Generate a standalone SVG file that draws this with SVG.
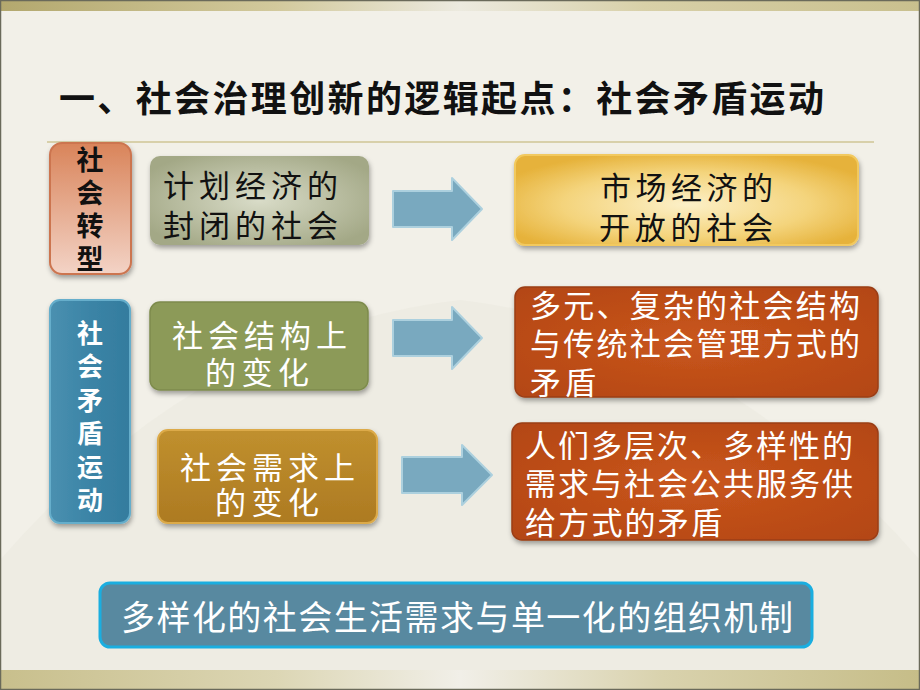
<svg xmlns="http://www.w3.org/2000/svg" width="920" height="690" viewBox="0 0 920 690">
<defs>
<linearGradient id="topBand" x1="0" y1="0" x2="1" y2="0">
<stop offset="0" stop-color="#b3a86e"/><stop offset="0.3" stop-color="#d2c99c"/><stop offset="0.5" stop-color="#eceadf"/><stop offset="0.7" stop-color="#d8d0a8"/><stop offset="1" stop-color="#c9c08e"/>
</linearGradient>
<linearGradient id="botBand" x1="0" y1="0" x2="1" y2="0">
<stop offset="0" stop-color="#c8bf8c"/><stop offset="0.3" stop-color="#dcd6b4"/><stop offset="0.5" stop-color="#f1efe8"/><stop offset="0.72" stop-color="#d9d2ad"/><stop offset="1" stop-color="#c6bd88"/>
</linearGradient>
<linearGradient id="redG" x1="0" y1="0" x2="0" y2="1">
<stop offset="0" stop-color="#d9845a"/><stop offset="1" stop-color="#f3d3c6"/>
</linearGradient>
<radialGradient id="greyG" cx="0.5" cy="0.5" r="0.6">
<stop offset="0" stop-color="#d9dcc8"/><stop offset="1" stop-color="#a3a886"/>
</radialGradient>
<radialGradient id="goldG" cx="0.5" cy="0.55" r="0.6">
<stop offset="0" stop-color="#fcf0c8"/><stop offset="0.6" stop-color="#f4d47c"/><stop offset="1" stop-color="#e6b23a"/>
</radialGradient>
<radialGradient id="orangeG" cx="0.5" cy="0.5" r="0.7">
<stop offset="0" stop-color="#c9561c"/><stop offset="1" stop-color="#b34614"/>
</radialGradient>
<linearGradient id="blueG" x1="0" y1="0" x2="1" y2="0">
<stop offset="0" stop-color="#4a90b0"/><stop offset="0.5" stop-color="#3b84a6"/><stop offset="1" stop-color="#347c9e"/>
</linearGradient>
<linearGradient id="brownG" x1="0" y1="0" x2="0" y2="1">
<stop offset="0" stop-color="#c0902e"/><stop offset="1" stop-color="#ad7a22"/>
</linearGradient>
<filter id="sh" x="-10%" y="-10%" width="125%" height="130%">
<feDropShadow dx="1" dy="3" stdDeviation="2.5" flood-color="#000" flood-opacity="0.35"/>
</filter>
<style>
.cjk{font-family:"Noto Sans CJK SC","Noto Sans CJK JP",sans-serif;}
.blk{fill:#111;}
.wht{fill:#fff;}
.vt{font-weight:bold;writing-mode:vertical-rl;}
.box{font-size:31px;}
.arrow{fill:#79a9bf;stroke:#acd0de;stroke-width:2;stroke-linejoin:round;}
</style>
</defs>

<rect x="0" y="0" width="920" height="690" fill="#f2f0e8"/>
<path d="M0,560 Q200,330 460,300 Q720,330 920,560 L920,670 L0,670 Z" fill="#ebe9e0" opacity="0.6"/>
<rect x="0" y="0" width="920" height="11" fill="url(#topBand)"/>
<rect x="0" y="670" width="920" height="20" fill="url(#botBand)"/>
<rect x="0.5" y="0.5" width="919" height="689" fill="none" stroke="#6a6a5a" stroke-width="1.5"/>

<g id="title">
<text class="cjk" x="59" y="112" font-size="36" font-weight="bold" fill="#111" textLength="765" lengthAdjust="spacing">一、社会治理创新的逻辑起点：社会矛盾运动</text>
<line x1="47" y1="142" x2="874" y2="142" stroke="#d8d0aa" stroke-width="2"/>
</g>

<g id="connectors">
<polygon class="arrow" points="393,191 452,191 452,178 482,209 452,240 452,227 393,227"/>
<polygon class="arrow" points="393,320 452,320 452,307 482,338 452,369 452,356 393,356"/>
<polygon class="arrow" points="402,457 462,457 462,445 492,475 462,505 462,493 402,493"/>
</g>

<g id="node-transform">
<rect x="50" y="143" width="81" height="131" rx="12" fill="url(#redG)" stroke="#cc7450" stroke-width="2" filter="url(#sh)"/>
<text class="cjk vt blk" x="90" y="146" font-size="27" letter-spacing="6">社会转型</text>
</g>

<g id="node-planned">
<rect x="150" y="156" width="219" height="89" rx="10" fill="url(#greyG)" filter="url(#sh)"/>
<text class="cjk box blk"><tspan x="163" y="197" textLength="175" lengthAdjust="spacing">计划经济的</tspan><tspan x="163" y="237" textLength="175" lengthAdjust="spacing">封闭的社会</tspan></text>
</g>

<g id="node-market">
<rect x="515" y="155" width="343" height="90" rx="10" fill="url(#goldG)" stroke="#f2c95e" stroke-width="2" filter="url(#sh)"/>
<text class="cjk box blk"><tspan x="600" y="199" textLength="173" lengthAdjust="spacing">市场经济的</tspan><tspan x="599" y="239" textLength="174" lengthAdjust="spacing">开放的社会</tspan></text>
</g>

<g id="node-contradiction">
<rect x="50" y="300" width="80" height="223" rx="10" fill="url(#blueG)" stroke="#66aecb" stroke-width="2" filter="url(#sh)"/>
<text class="cjk vt wht" x="90" y="320" font-size="26" letter-spacing="7.5">社会矛盾运动</text>
</g>

<g id="node-structure">
<rect x="150" y="302" width="218" height="88" rx="10" fill="#8c9a59" stroke="#7d8b4c" stroke-width="1.5" filter="url(#sh)"/>
<text class="cjk box wht"><tspan x="172" y="347" textLength="175" lengthAdjust="spacing">社会结构上</tspan><tspan x="205" y="384" textLength="104" lengthAdjust="spacing">的变化</tspan></text>
</g>

<g id="node-structure-contradiction">
<rect x="515" y="287" width="363" height="110" rx="10" fill="url(#orangeG)" stroke="#9a3e14" stroke-width="1.5" filter="url(#sh)"/>
<text class="cjk box wht"><tspan x="530" y="317" textLength="330" lengthAdjust="spacing">多元、复杂的社会结构</tspan><tspan x="530" y="355" textLength="330" lengthAdjust="spacing">与传统社会管理方式的</tspan><tspan x="530" y="394" textLength="66" lengthAdjust="spacing">矛盾</tspan></text>
</g>

<g id="node-demand">
<rect x="158" y="430" width="219" height="93" rx="10" fill="url(#brownG)" stroke="#dcaa48" stroke-width="2" filter="url(#sh)"/>
<text class="cjk box wht"><tspan x="180" y="479" textLength="175" lengthAdjust="spacing">社会需求上</tspan><tspan x="215" y="514" textLength="104" lengthAdjust="spacing">的变化</tspan></text>
</g>

<g id="node-demand-contradiction">
<rect x="512" y="423" width="366" height="117" rx="10" fill="url(#orangeG)" stroke="#9a3e14" stroke-width="1.5" filter="url(#sh)"/>
<text class="cjk box wht"><tspan x="525" y="457" textLength="328" lengthAdjust="spacing">人们多层次、多样性的</tspan><tspan x="525" y="495" textLength="328" lengthAdjust="spacing">需求与社会公共服务供</tspan><tspan x="525" y="534" textLength="197" lengthAdjust="spacing">给方式的矛盾</tspan></text>
</g>

<g id="node-summary">
<rect x="100" y="583" width="712" height="64" rx="10" fill="#5889a0" stroke="#1aaee0" stroke-width="3"/>
<text class="cjk wht" x="121" y="630" font-size="34" textLength="672" lengthAdjust="spacing">多样化的社会生活需求与单一化的组织机制</text>
</g>
</svg>
